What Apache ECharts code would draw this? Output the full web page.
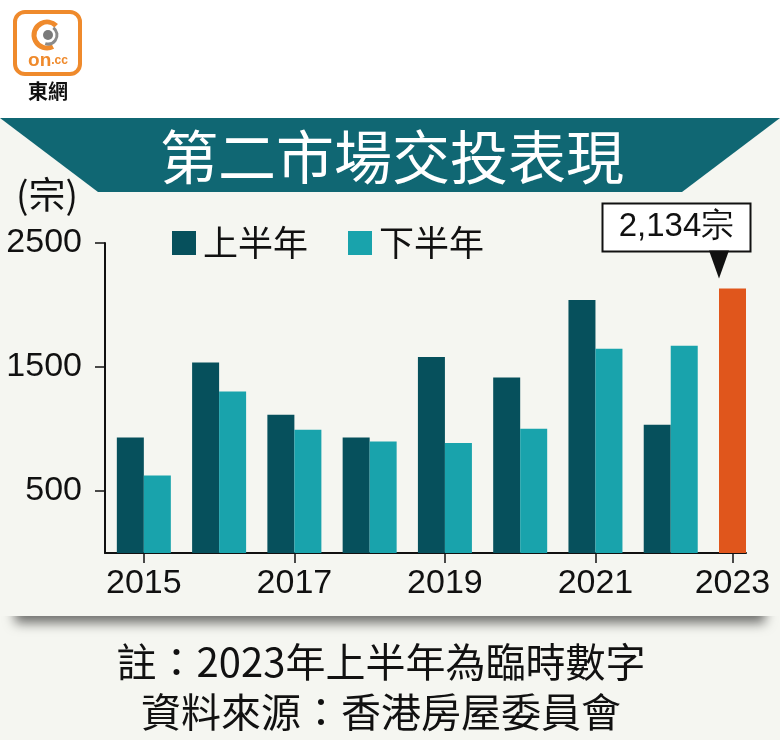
<!DOCTYPE html>
<html><head><meta charset="utf-8">
<script src="https://cdn.jsdelivr.net/npm/echarts@6/dist/echarts.min.js"></script>
<style>html,body{margin:0;padding:0;background:#f5f6f1}#c{width:780px;height:740px}</style>
</head><body><div id="c"></div>
<script>
// ---- data ----
const years = [2015, 2016, 2017, 2018, 2019, 2020, 2021, 2022, 2023];
const firstHalf = [932, 1536, 1115, 932, 1580, 1415, 2041, 1035, 2134];
const secondHalf = [624, 1303, 994, 900, 887, 1002, 1647, 1671, null];
const seriesNames = ['上半年', '下半年'];
const yTickValues = [500, 1500, 2500];
const xTickYears = [2015, 2017, 2019, 2021, 2023];
const titleText = '第二市場交投表現';
const unitText = '(宗)';
const noteLines = ['註：2023年上半年為臨時數字', '資料來源：香港房屋委員會'];
const provisionalText = '2,134宗';

// ---- style ----
const DARK = '#06505c', LIGHT = '#19a3ac', ORANGE = '#e0561c', BANNER = '#106773', BG = '#f5f6f1';
const NUM_FONT = '"Liberation Sans", Arial, sans-serif';
const CJK_FONT = '"Noto Sans CJK TC", "Noto Sans CJK SC", sans-serif';
const BAR_W = 27;
const lastYear = years[years.length - 1];
const lastIdx = years.length - 1;
// tick for the last (single-bar) year sits under the bar centre
const halfBarInYears = 0.18;
const xTickPositions = xTickYears.map(y => y === lastYear ? y - halfBarInYears : y);

const chart = echarts.init(document.getElementById('c'), null, { renderer: 'canvas' });

const darkData = years.map((y, i) => {
  if (i === lastIdx) {
    return {
      value: [y, firstHalf[i]],
      itemStyle: { color: ORANGE },
      label: {
        show: true, formatter: provisionalText, position: 'top', distance: 38, offset: [-56, 0],
        backgroundColor: '#fff', borderColor: '#111', borderWidth: 2,
        width: 146, height: 46, lineHeight: 46, align: 'center',
        fontSize: 33, fontFamily: NUM_FONT, color: '#111'
      }
    };
  }
  return [y, firstHalf[i]];
});
const lightData = years.map((y, i) => [y, secondHalf[i] == null ? '-' : secondHalf[i]]);

chart.setOption({
  backgroundColor: BG,
  animation: false,
  grid: { left: 105, right: 34, top: 243, bottom: 187, containLabel: false, outerBoundsMode: 'none' },
  legend: {
    left: 167, top: 220, itemWidth: 24, itemHeight: 24, itemGap: 40, icon: 'rect',
    textStyle: { fontSize: 35, fontFamily: CJK_FONT, color: '#111', padding: [0, 0, 0, 2], lineHeight: 36 },
    data: seriesNames
  },
  xAxis: {
    type: 'value', min: 2014.484, max: 2023,
    axisLine: { show: true, lineStyle: { color: '#111', width: 2 } },
    axisTick: { show: true, customValues: xTickPositions, length: 10, lineStyle: { color: '#111', width: 1.5 } },
    axisLabel: {
      customValues: xTickPositions, formatter: v => String(Math.round(v)),
      fontSize: 34, fontFamily: NUM_FONT, color: '#111', margin: 14
    },
    splitLine: { show: false }
  },
  yAxis: {
    type: 'value', min: 0, max: 2500,
    axisLine: { show: true, lineStyle: { color: '#111', width: 2 } },
    axisTick: { show: true, customValues: yTickValues, length: 10, lineStyle: { color: '#111', width: 1.5 } },
    axisLabel: { customValues: yTickValues, formatter: v => String(v), fontSize: 34, fontFamily: NUM_FONT, color: '#111', margin: 23 },
    splitLine: { show: false }
  },
  series: [
    {
      name: seriesNames[0], type: 'bar', barWidth: BAR_W, barGap: '0%',
      itemStyle: { color: DARK }, data: darkData,
      markPoint: {
        silent: true,
        data: [{
          coord: [lastYear, firstHalf[lastIdx]],
          symbol: 'path://M0,0L20,0L10,28Z', symbolSize: [20, 28], symbolOffset: [-13.5, -24],
          itemStyle: { color: '#111' }, label: { show: false }
        }]
      }
    },
    {
      name: seriesNames[1], type: 'bar', barWidth: BAR_W, barGap: '0%',
      itemStyle: { color: LIGHT }, data: lightData
    }
  ],
  graphic: [
    // paper shadow under the panel
    { type: 'rect', z: -12, shape: { x: 15, y: 592, width: 750, height: 24 },
      style: { fill: BG, shadowBlur: 12, shadowOffsetY: 7, shadowColor: 'rgba(0,0,0,0.55)' } },
    { type: 'rect', z: -11, shape: { x: 0, y: 118, width: 780, height: 498 }, style: { fill: BG } },
    { type: 'rect', z: -10, shape: { x: 0, y: 0, width: 780, height: 118 }, style: { fill: '#fff' } },
    { type: 'polygon', z: -5, shape: { points: [[0, 118], [780, 118], [682, 192], [98, 192]] }, style: { fill: BANNER } },
    { type: 'text', z: 5, x: 392, y: 157, style: { text: titleText, fill: '#fff', font: '58px ' + CJK_FONT, textAlign: 'center', textVerticalAlign: 'middle' } },
    { type: 'text', z: 5, x: 16, y: 195, style: { text: unitText, fill: '#111', font: '37px ' + CJK_FONT, textAlign: 'left', textVerticalAlign: 'middle' } },
    // logo
    { type: 'rect', z: 5, shape: { x: 15, y: 12, width: 65, height: 62, r: 10 }, style: { fill: '#fff', stroke: '#ef8a2c', lineWidth: 4 } },
    { type: 'arc', z: 6, shape: { cx: 47, cy: 35, r: 13, startAngle: Math.PI * 0.35, endAngle: Math.PI * 1.75 }, style: { stroke: '#ef8a2c', lineWidth: 5, fill: null } },
    { type: 'arc', z: 6, shape: { cx: 48, cy: 35, r: 9, startAngle: -Math.PI * 0.3, endAngle: Math.PI * 0.6 }, style: { stroke: '#8a8a8a', lineWidth: 3, fill: null } },
    { type: 'circle', z: 6, shape: { cx: 48, cy: 35, r: 5 }, style: { fill: '#7a7a7a' } },
    { type: 'text', z: 6, x: 48, y: 61, style: { text: '{a|on}{b|.cc}', rich: { a: { fontSize: 19, fontWeight: 'bold', fill: '#ef8a2c', fontFamily: 'Arial' }, b: { fontSize: 12, fontWeight: 'bold', fill: '#ef8a2c', fontFamily: 'Arial' } }, textAlign: 'center', textVerticalAlign: 'middle' } },
    { type: 'text', z: 6, x: 48, y: 91, style: { text: '東網', fill: '#111', font: 'bold 20px ' + CJK_FONT, textAlign: 'center', textVerticalAlign: 'middle' } },
    // notes
    { type: 'text', z: 5, x: 381, y: 662, style: { text: noteLines[0], fill: '#111', font: '40px ' + CJK_FONT, textAlign: 'center', textVerticalAlign: 'middle' } },
    { type: 'text', z: 5, x: 381, y: 712, style: { text: noteLines[1], fill: '#111', font: '40px ' + CJK_FONT, textAlign: 'center', textVerticalAlign: 'middle' } }
  ]
});
</script>
</body></html>
